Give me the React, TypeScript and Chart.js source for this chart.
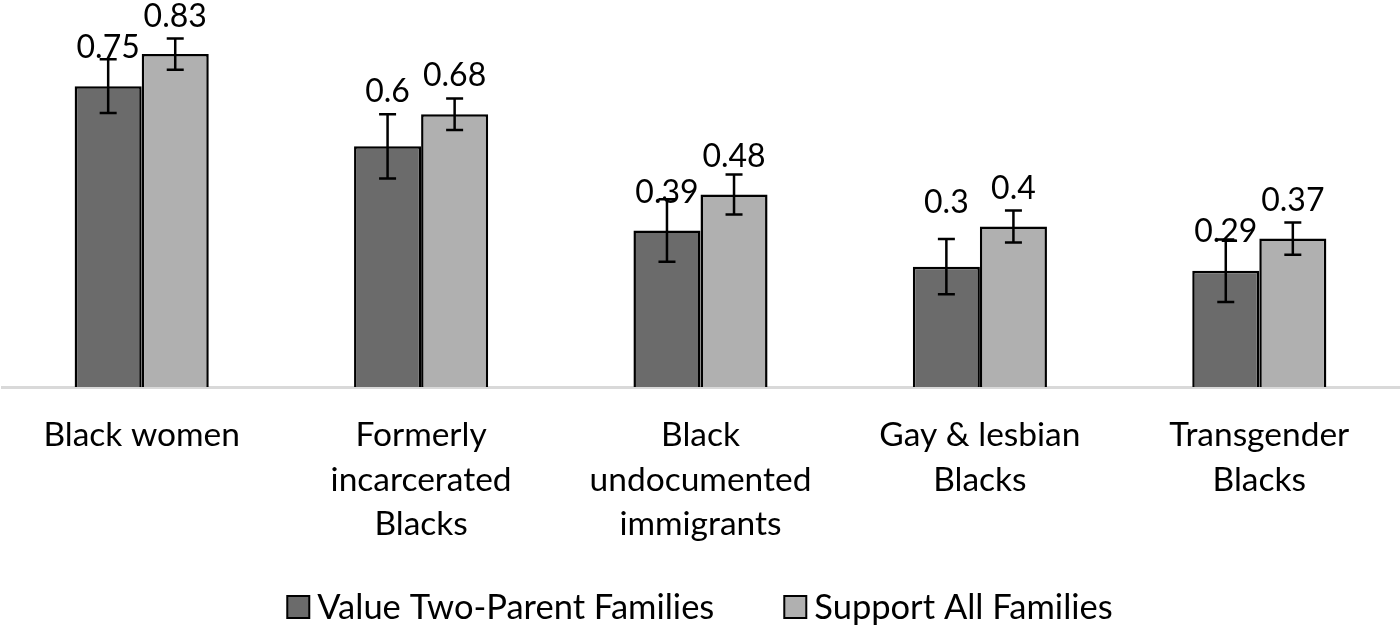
import { useEffect, useRef } from "react"
import { Chart, registerables } from "chart.js"

Chart.register(...registerables)

const categories = [
  ["Black women"],
  ["Formerly", "incarcerated", "Blacks"],
  ["Black", "undocumented", "immigrants"],
  ["Gay & lesbian", "Blacks"],
  ["Transgender", "Blacks"],
]
const seriesNames = ["Value Two-Parent Families", "Support All Families"]
const valueTwoParent = [0.75, 0.6, 0.39, 0.3, 0.29]
const supportAll = [0.83, 0.68, 0.48, 0.4, 0.37]
const valueTwoParentErr = [0.067, 0.08, 0.078, 0.069, 0.078]
const supportAllErr = [0.039, 0.039, 0.05, 0.04, 0.04]

// how far above the bar top each label's baseline sits (Excel nudged two of them)
const labelLift = [
  [28, 44, 28, 54, 29],
  [27, 28, 27, 28, 28],
]

const FONT = "Lato"
const COLORS = ["#6b6b6b", "#b0b0b0"]
const errors = [valueTwoParentErr, supportAllErr]

const barExtras = {
  id: "barExtras",
  afterDatasetsDraw(chart: Chart) {
    const { ctx } = chart
    const y = chart.scales.y
    ctx.save()
    // error bars
    chart.data.datasets.forEach((ds, di) => {
      const meta = chart.getDatasetMeta(di)
      meta.data.forEach((bar: any, i) => {
        const v = ds.data[i] as number
        const e = errors[di][i]
        const x = bar.x
        const top = y.getPixelForValue(v + e)
        const bot = y.getPixelForValue(v - e)
        ctx.strokeStyle = "#000"
        ctx.lineWidth = 2.5
        ctx.beginPath()
        ctx.moveTo(x, top)
        ctx.lineTo(x, bot)
        ctx.moveTo(x - 8.5, top)
        ctx.lineTo(x + 8.5, top)
        ctx.moveTo(x - 8.5, bot)
        ctx.lineTo(x + 8.5, bot)
        ctx.stroke()
      })
    })
    // value labels
    ctx.fillStyle = "#000"
    ctx.font = `32px ${FONT}`
    ctx.textAlign = "center"
    ctx.textBaseline = "alphabetic"
    chart.data.datasets.forEach((ds, di) => {
      const meta = chart.getDatasetMeta(di)
      meta.data.forEach((bar: any, i) => {
        ctx.fillText(String(ds.data[i]), bar.x, bar.y - labelLift[di][i])
      })
    })
    // legend (Excel spacing)
    ctx.font = `34.5px ${FONT}`
    ctx.textAlign = "left"
    ctx.textBaseline = "middle"
    const box = 22
    const gap = 8
    const itemGap = 70
    const widths = seriesNames.map((n) => box + gap + ctx.measureText(n).width)
    const total = widths.reduce((a, b) => a + b, 0) + itemGap * (widths.length - 1)
    let lx = (chart.width - total) / 2
    const ly = 607
    seriesNames.forEach((n, i) => {
      ctx.fillStyle = COLORS[i]
      ctx.fillRect(lx, ly - box / 2, box, box)
      ctx.strokeStyle = "#000"
      ctx.lineWidth = 2
      ctx.strokeRect(lx, ly - box / 2, box, box)
      ctx.fillStyle = "#000"
      ctx.fillText(n, lx + box + gap, ly + 1)
      lx += widths[i] + itemGap
    })
    ctx.restore()
  },
}

export default function App() {
  const canvasRef = useRef<HTMLCanvasElement>(null)
  const chartRef = useRef<Chart | null>(null)

  useEffect(() => {
    document.body.style.margin = "0"
    if (!canvasRef.current) return

    chartRef.current = new Chart(canvasRef.current, {
      type: "bar",
      data: {
        labels: categories,
        datasets: [
          {
            label: seriesNames[0],
            data: valueTwoParent,
            backgroundColor: COLORS[0],
            borderColor: "#000",
            borderWidth: 2.5,
          },
          {
            label: seriesNames[1],
            data: supportAll,
            backgroundColor: COLORS[1],
            borderColor: "#000",
            borderWidth: 2.5,
          },
        ],
      },
      options: {
        animation: false,
        responsive: true,
        maintainAspectRatio: false,
        layout: { padding: { top: 26, left: 2, right: 1, bottom: 62 } },
        datasets: {
          bar: { categoryPercentage: 0.48, barPercentage: 1 },
        },
        plugins: {
          tooltip: { enabled: false },
          legend: { display: false },
        },
        scales: {
          y: { display: false, min: 0, max: 0.9 },
          x: {
            grid: { display: false, drawTicks: false },
            border: { display: true, color: "#d9d9d9", width: 3 },
            ticks: {
              color: "#000",
              padding: 26,
              maxRotation: 0,
              autoSkip: false,
              font: { family: FONT, size: 33.5, lineHeight: 1.33 },
            },
            afterFit: (scale) => {
              scale.height = 178
            },
          },
        },
      },
      plugins: [barExtras],
    })

    return () => {
      chartRef.current?.destroy()
    }
  }, [])

  return (
    <div style={{ width: 1400, height: 627, position: "relative", background: "#fff" }}>
      <canvas ref={canvasRef} />
    </div>
  )
}
